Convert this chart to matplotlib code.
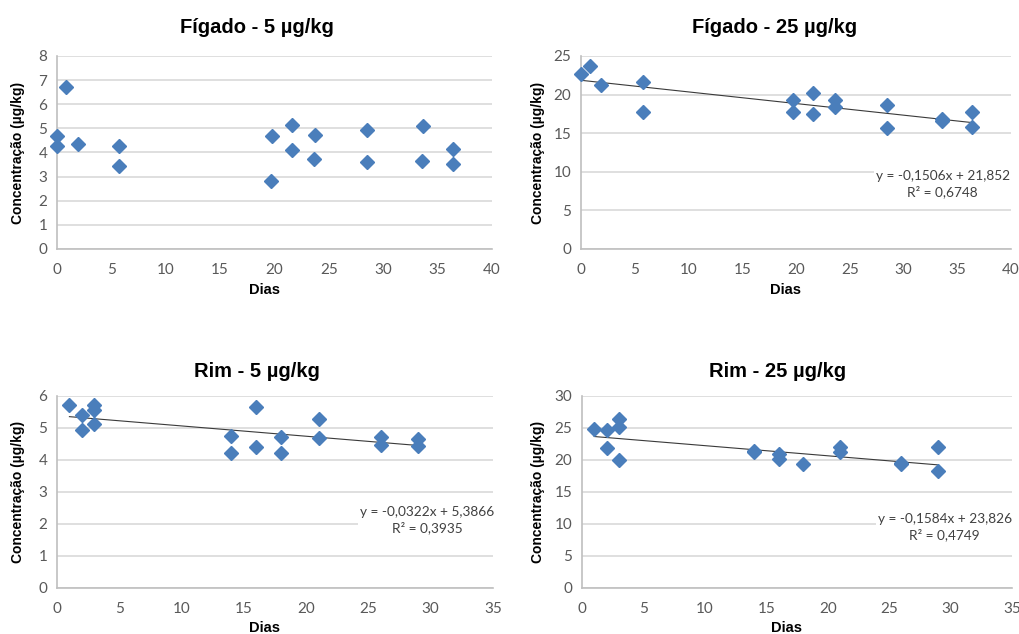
import matplotlib.pyplot as plt
import numpy as np

# Fígado - 5 µg/kg
fig5_dias = [0, 0, 0.8, 1.9, 5.7, 5.7, 19.8, 19.7, 21.65, 21.65, 23.7, 23.6,
             28.5, 28.5, 33.65, 33.6, 36.4, 36.4]
fig5_conc = [4.68, 4.28, 6.73, 4.35, 4.28, 3.44, 4.68, 2.8, 5.14, 4.1, 4.74, 3.73,
             4.94, 3.61, 5.1, 3.64, 4.16, 3.54]

# Fígado - 25 µg/kg
fig25_dias = [0, 0.8, 1.9, 5.74, 5.74, 19.7, 19.7, 21.6, 21.6, 23.66, 23.66,
              28.5, 28.5, 33.6, 33.6, 36.4, 36.4]
fig25_conc = [22.64, 23.7, 21.27, 21.65, 17.8, 19.34, 17.8, 20.2, 17.54, 19.25, 18.35,
              18.7, 15.65, 16.85, 16.6, 17.7, 15.74]

# Rim - 5 µg/kg
rim5_dias = [1, 2, 2, 3, 3, 3, 14, 14, 16, 16, 18, 18, 21, 21, 26, 26, 29, 29]
rim5_conc = [5.71, 5.4, 4.93, 5.71, 5.57, 5.14, 4.76, 4.22, 5.67, 4.4, 4.72, 4.22,
             5.28, 4.7, 4.72, 4.48, 4.66, 4.43]

# Rim - 25 µg/kg
rim25_dias = [1, 2, 2, 3, 3, 3, 14, 14, 16, 16, 18, 21, 21, 26, 26, 29, 29]
rim25_conc = [24.9, 24.65, 21.8, 26.4, 25.1, 20.07, 21.4, 21.25, 20.95, 20.2, 19.45,
              22.0, 21.2, 19.6, 19.4, 22.1, 18.25]

titles = ["Fígado - 5 µg/kg", "Fígado - 25 µg/kg", "Rim - 5 µg/kg", "Rim - 25 µg/kg"]
# trend lines (slope, intercept, r2, x range)
trends = [None,
          (-0.1506, 21.852, "0,6748", (0, 36.4)),
          (-0.0322, 5.3866, "0,3935", (1, 29)),
          (-0.1584, 23.826, "0,4749", (1, 29))]
eq_texts = [None, "y = -0,1506x + 21,852", "y = -0,0322x + 5,3866", "y = -0,1584x + 23,826"]

xmax = [40, 40, 35, 35]
ymax = [8, 25, 6, 30]
ystep = [1, 5, 1, 5]

positions = [
    [0.0559, 0.6073, 0.4269, 0.3044],
    [0.5702, 0.6073, 0.4219, 0.3044],
    [0.0559, 0.0726, 0.4279, 0.3028],
    [0.5711, 0.0726, 0.4220, 0.3028],
]
title_pos = [(0.252, 0.957), (0.760, 0.957), (0.252, 0.414), (0.763, 0.414)]
ylab_x = [0.018, 0.528, 0.018, 0.528]
xlab_y = [0.543, 0.543, 0.010, 0.010]
eq_pos = [None, (0.925, 0.709), (0.419, 0.180), (0.927, 0.168)]

data = [(fig5_dias, fig5_conc), (fig25_dias, fig25_conc),
        (rim5_dias, rim5_conc), (rim25_dias, rim25_conc)]

fig = plt.figure(figsize=(10.19, 6.34), dpi=100)
tick_font = "Lato"
lab_font = "Liberation Sans"
blue = "#4a7ebb"
grid_c = "#d9d9d9"

for i in range(4):
    ax = fig.add_axes(positions[i])
    xs, ys = data[i]
    ax.set_xlim(0, xmax[i])
    ax.set_ylim(0, ymax[i])
    ax.set_xticks(np.arange(0, xmax[i] + 1, 5))
    ax.set_yticks(np.arange(0, ymax[i] + 1, ystep[i]))
    ax.yaxis.grid(True, color=grid_c, lw=1.2)
    ax.set_axisbelow(True)
    for s in ["top", "right"]:
        ax.spines[s].set_visible(False)
    ax.spines["left"].set_color("#bfbfbf")
    ax.spines["bottom"].set_color("#bfbfbf")
    ax.spines["left"].set_linewidth(1.2)
    ax.spines["bottom"].set_linewidth(1.2)
    ax.tick_params(length=0, labelsize=11, labelcolor="#595959")
    ax.tick_params(axis="x", pad=10)
    ax.tick_params(axis="y", pad=7)
    for lab in ax.get_xticklabels() + ax.get_yticklabels():
        lab.set_fontfamily(tick_font)

    if trends[i] is not None:
        m, b, r2, (x0, x1) = trends[i]
        tx = np.array([x0, x1])
        ax.plot(tx, m * tx + b, color="#3a3a3a", lw=0.8, zorder=2)
        ex, ey = eq_pos[i]
        fig.text(ex, ey, eq_texts[i] + "\nR² = " + r2, ha="center", va="center",
                 fontsize=9.8, color="#404040", family=tick_font,
                 multialignment="center", linespacing=1.3,
                 bbox=dict(facecolor="white", edgecolor="none", pad=1))

    ax.plot(xs, ys, linestyle="none", marker="D", markersize=7.5, color=blue,
            markeredgecolor=blue, zorder=3, clip_on=False)

    fig.text(title_pos[i][0], title_pos[i][1], titles[i], ha="center", va="center",
             fontsize=14.5, fontweight="bold", family=lab_font)
    fig.text(ylab_x[i], positions[i][1] + positions[i][3] / 2, "Concentração (µg/kg)",
             rotation=90, ha="center", va="center", fontsize=10,
             fontweight="bold", family=lab_font)
    fig.text(positions[i][0] + positions[i][2] / 2 - 0.01, xlab_y[i], "Dias",
             ha="center", va="center", fontsize=10.5, fontweight="bold", family=lab_font)

fig.savefig("out.png", dpi=100, facecolor="white")
